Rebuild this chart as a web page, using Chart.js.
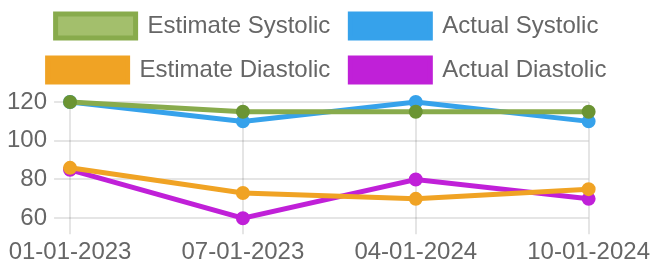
<!DOCTYPE html>
<html>
<head>
<meta charset="utf-8">
<script src="https://cdn.jsdelivr.net/npm/chart.js@4"></script>
<style>
  html, body { margin: 0; padding: 0; background: #fff; }
  #wrap { width: 654px; height: 266px; }
</style>
</head>
<body>
<div id="wrap"><canvas id="bpChart"></canvas></div>
<script>
// chart data
const dates = ['01-01-2023', '07-01-2023', '04-01-2024', '10-01-2024'];
const estimateSystolic = [120, 115, 115, 115];
const actualSystolic = [120, 110, 120, 110];
const estimateDiastolic = [86, 73, 70, 75];
const actualDiastolic = [85, 60, 80, 70];
const yTicks = [60, 80, 100, 120];

Chart.defaults.font.size = 24;
Chart.defaults.color = '#666';

function series(label, data, fill, stroke, point) {
    return {
        label: label,
        data: data,
        backgroundColor: fill,
        borderColor: stroke,
        pointBackgroundColor: point || stroke,
        pointBorderColor: point || stroke,
        borderWidth: 5,
        pointRadius: 6,
        pointBorderWidth: 2,
        tension: 0,
        clip: false
    };
}

// a bit more room under the legend
const legendGap = {
    id: 'legendGap',
    beforeLayout(chart) {
        const legend = chart.legend;
        if (!legend || legend._gapDone) return;
        const fit = legend.fit;
        legend.fit = function () {
            fit.call(this);
            this.height += 10;
        };
        legend._gapDone = true;
    }
};

const ctx = document.getElementById('bpChart').getContext('2d');
new Chart(ctx, {
    type: 'line',
    data: {
        labels: dates,
        datasets: [
            series('Estimate Systolic', estimateSystolic, '#a3bf6c', '#88ab4c', '#6b9433'),
            series('Actual Systolic', actualSystolic, '#36a2eb', '#36a2eb'),
            series('Estimate Diastolic', estimateDiastolic, '#f0a324', '#f0a324'),
            series('Actual Diastolic', actualDiastolic, '#c020d8', '#c020d8')
        ]
    },
    plugins: [legendGap],
    options: {
        responsive: true,
        maintainAspectRatio: false,
        animation: false,
        layout: { padding: { top: -6, bottom: -5 } },
        plugins: {
            legend: {
                labels: {
                    boxWidth: 80,
                    boxHeight: 24,
                    padding: 20
                }
            },
            tooltip: { enabled: false }
        },
        scales: {
            x: {
                grid: { lineWidth: 2, tickLength: 16 },
                border: { display: false },
                ticks: { padding: 4 }
            },
            y: {
                min: 60,
                max: 120,
                afterBuildTicks: (axis) => {
                    axis.ticks = yTicks.map(v => ({ value: v }));
                },
                grid: { lineWidth: 2, tickLength: 16 },
                border: { display: false },
                ticks: { padding: 7 }
            }
        }
    }
});
</script>
</body>
</html>
